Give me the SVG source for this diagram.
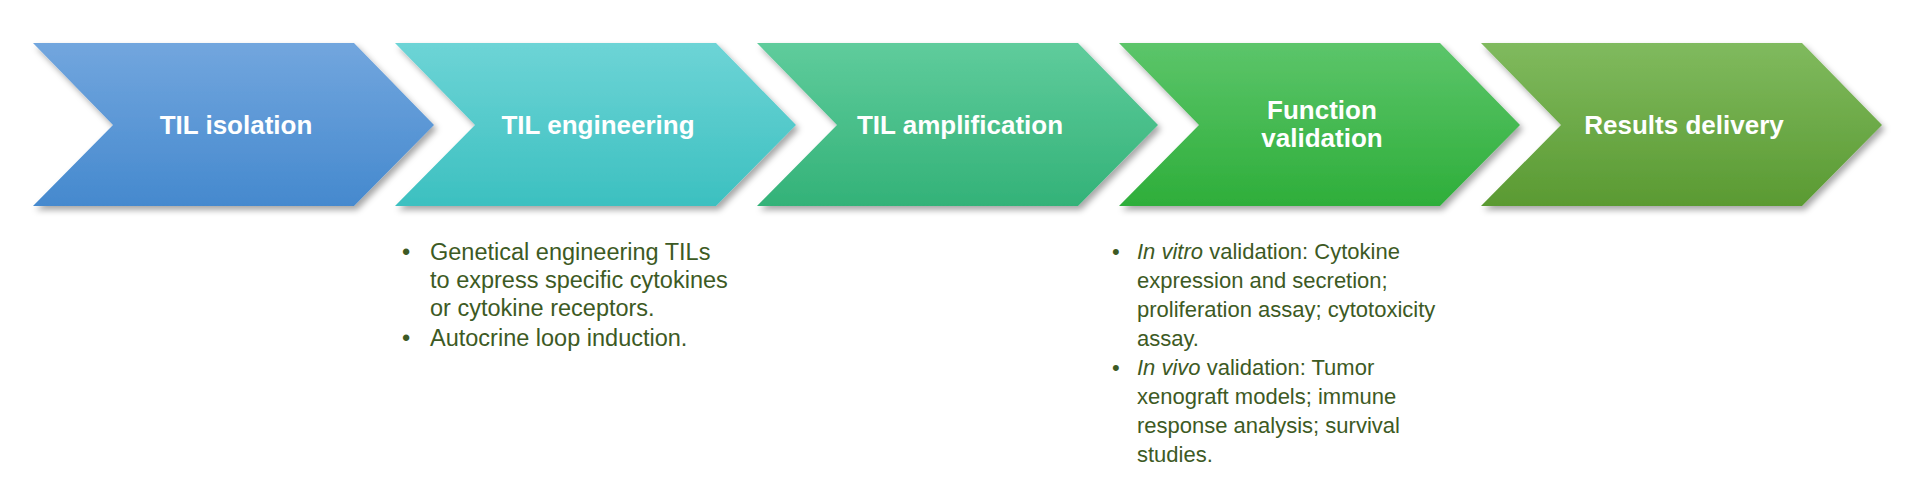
<svg xmlns="http://www.w3.org/2000/svg" width="1917" height="494" viewBox="0 0 1917 494">
<defs>
<linearGradient id="g1" x1="0" y1="0" x2="0" y2="1"><stop offset="0" stop-color="#72A6DE"/><stop offset="1" stop-color="#4589CE"/></linearGradient>
<linearGradient id="g2" x1="0" y1="0" x2="0" y2="1"><stop offset="0" stop-color="#6DD4D6"/><stop offset="1" stop-color="#3CC0C0"/></linearGradient>
<linearGradient id="g3" x1="0" y1="0" x2="0" y2="1"><stop offset="0" stop-color="#5FCC9C"/><stop offset="1" stop-color="#33B278"/></linearGradient>
<linearGradient id="g4" x1="0" y1="0" x2="0" y2="1"><stop offset="0" stop-color="#5CC56A"/><stop offset="1" stop-color="#2EAE3A"/></linearGradient>
<linearGradient id="g5" x1="0" y1="0" x2="0" y2="1"><stop offset="0" stop-color="#80BA5E"/><stop offset="1" stop-color="#5A9A32"/></linearGradient>
<filter id="sh" x="-5%" y="-5%" width="115%" height="120%"><feDropShadow dx="3" dy="4" stdDeviation="3" flood-color="#000" flood-opacity="0.35"/></filter>
<path id="chev" d="M0,0 H321 L401,82 L321,163 H0 L80,82 Z"/>
</defs>
<style>
.lbl{font-family:"Liberation Sans",Arial,sans-serif;font-weight:bold;font-size:26px;fill:#fff;text-anchor:middle}
.txt{font-family:"Liberation Sans",Arial,sans-serif;fill:#3D5A24}
</style>
<g id="n1" transform="translate(33,43)"><use href="#chev" fill="url(#g1)" filter="url(#sh)"/><text class="lbl" x="203" y="91">TIL isolation</text></g>
<g id="n2" transform="translate(395,43)"><use href="#chev" fill="url(#g2)" filter="url(#sh)"/><text class="lbl" x="203" y="91">TIL engineering</text></g>
<g id="n3" transform="translate(757,43)"><use href="#chev" fill="url(#g3)" filter="url(#sh)"/><text class="lbl" x="203" y="91">TIL amplification</text></g>
<g id="n4" transform="translate(1119,43)"><use href="#chev" fill="url(#g4)" filter="url(#sh)"/><text class="lbl" x="203" y="76">Function</text><text class="lbl" x="203" y="104">validation</text></g>
<g id="n5" transform="translate(1481,43)"><use href="#chev" fill="url(#g5)" filter="url(#sh)"/><text class="lbl" x="203" y="91">Results delivery</text></g>
<g id="connectors"/>
<g id="t1" class="txt" font-size="23.5">
<text x="402" y="260">•</text>
<text x="430" y="260">Genetical engineering TILs</text>
<text x="430" y="288">to express specific cytokines</text>
<text x="430" y="316">or cytokine receptors.</text>
<text x="402" y="346">•</text>
<text x="430" y="346">Autocrine loop induction.</text>
</g>
<g id="t2" class="txt" font-size="22">
<text x="1112" y="259">•</text>
<text x="1137" y="259"><tspan font-style="italic">In vitro</tspan> validation: Cytokine</text>
<text x="1137" y="288">expression and secretion;</text>
<text x="1137" y="317">proliferation assay; cytotoxicity</text>
<text x="1137" y="346">assay.</text>
<text x="1112" y="375">•</text>
<text x="1137" y="375"><tspan font-style="italic">In vivo</tspan> validation: Tumor</text>
<text x="1137" y="404">xenograft models; immune</text>
<text x="1137" y="433">response analysis; survival</text>
<text x="1137" y="462">studies.</text>
</g>
</svg>
